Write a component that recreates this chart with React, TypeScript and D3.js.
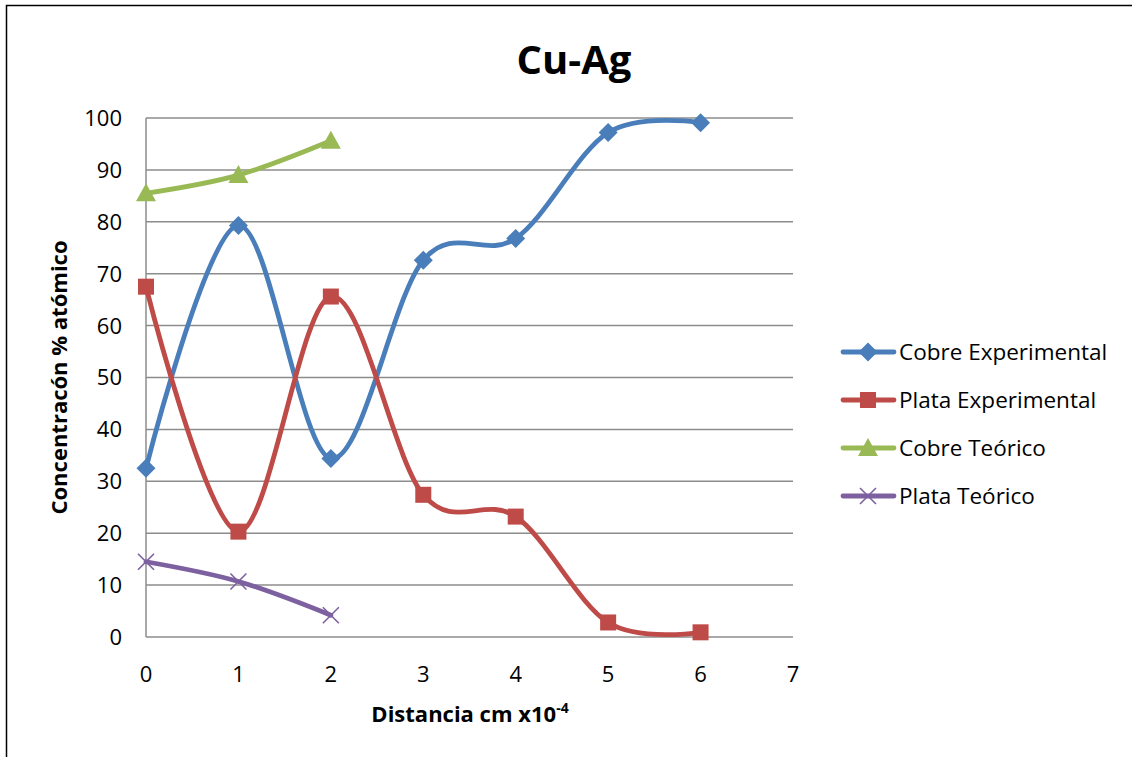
import * as d3 from "d3"

const X_VALUES = [0, 1, 2, 3, 4, 5, 6]
const COBRE_EXP = [32.5, 79.3, 34.4, 72.6, 76.8, 97.2, 99.1]
const PLATA_EXP = [67.5, 20.3, 65.6, 27.4, 23.2, 2.8, 0.9]
const COBRE_TEO = [85.5, 89.0, 95.6]
const PLATA_TEO = [14.5, 10.7, 4.2]

const X_TICKS = [0, 1, 2, 3, 4, 5, 6, 7]
const Y_TICKS = [0, 10, 20, 30, 40, 50, 60, 70, 80, 90, 100]

type Marker = "diamond" | "square" | "triangle" | "x"

interface Series {
  name: string
  values: number[]
  color: string
  marker: Marker
}

const SERIES: Series[] = [
  { name: "Cobre Experimental", values: COBRE_EXP, color: "#4a7ebb", marker: "diamond" },
  { name: "Plata Experimental", values: PLATA_EXP, color: "#be4b48", marker: "square" },
  { name: "Cobre Teórico",      values: COBRE_TEO, color: "#98b954", marker: "triangle" },
  { name: "Plata Teórico",      values: PLATA_TEO, color: "#7d60a0", marker: "x" },
]

const W = 1132
const H = 757
const PLOT_L = 146
const PLOT_R = 793
const PLOT_T = 118
const PLOT_B = 637
const FONT = "Open Sans, Noto Sans, sans-serif"

function MarkerShape({ m, x, y, color }: { m: Marker; x: number; y: number; color: string }) {
  if (m === "diamond") {
    const s = 9.5
    return <path d={`M${x},${y - s}L${x + s},${y}L${x},${y + s}L${x - s},${y}Z`} fill={color} />
  }
  if (m === "square") {
    const s = 8
    return <rect x={x - s} y={y - s} width={s * 2} height={s * 2} fill={color} />
  }
  if (m === "triangle") {
    const s = 9
    return <path d={`M${x},${y - s - 1}L${x + s + 1},${y + s - 1}L${x - s - 1},${y + s - 1}Z`} fill={color} />
  }
  const s = 8
  return (
    <path
      d={`M${x - s},${y - s}L${x + s},${y + s}M${x - s},${y + s}L${x + s},${y - s}`}
      stroke={color}
      strokeWidth={1.6}
      fill="none"
    />
  )
}

export default function App() {
  const x = d3.scaleLinear().domain([0, 7]).range([PLOT_L, PLOT_R])
  const y = d3.scaleLinear().domain([0, 100]).range([PLOT_B, PLOT_T])

  const line = d3
    .line<number>()
    .x((_, i) => x(X_VALUES[i]))
    .y((d) => y(d))
    .curve(d3.curveCardinal.tension(0))

  const legendY = [352, 400, 448, 496]

  return (
    <svg
      width={W}
      height={H}
      style={{ position: "absolute", left: 0, top: 0, background: "#fff" }}
      fontFamily={FONT}
    >
      <rect x={6.5} y={5.5} width={W + 20} height={H + 20} fill="#fff" stroke="#000" strokeWidth={1.5} />

      {/* gridlines */}
      {Y_TICKS.map((t) => (
        <line key={t} x1={PLOT_L} x2={PLOT_R} y1={y(t)} y2={y(t)} stroke="#8c8c8c" strokeWidth={1.5} />
      ))}
      <line x1={PLOT_L} x2={PLOT_L} y1={PLOT_T} y2={PLOT_B} stroke="#8c8c8c" strokeWidth={1.5} />

      {/* y tick labels */}
      {Y_TICKS.map((t) => (
        <text key={t} x={122} y={y(t)} dy="0.36em" textAnchor="end" fontSize={22} fill="#000">
          {t}
        </text>
      ))}
      {/* x tick labels */}
      {X_TICKS.map((t) => (
        <text key={t} x={x(t)} y={682} textAnchor="middle" fontSize={22} fill="#000">
          {t}
        </text>
      ))}

      {/* series */}
      {SERIES.map((s) => (
        <g key={s.name}>
          <path d={line(s.values) ?? ""} fill="none" stroke={s.color} strokeWidth={4.8} strokeLinecap="round" />
          {s.values.map((v, i) => (
            <MarkerShape key={i} m={s.marker} x={x(X_VALUES[i])} y={y(v)} color={s.color} />
          ))}
        </g>
      ))}

      {/* title */}
      <text x={574} y={74} textAnchor="middle" fontSize={40} fontWeight="bold" fill="#000">
        Cu-Ag
      </text>

      {/* axis titles */}
      <text
        transform={`translate(67,${(PLOT_T + PLOT_B) / 2}) rotate(-90)`}
        textAnchor="middle"
        fontSize={22}
        fontWeight="bold"
        fill="#000"
      >
        Concentracón % atómico
      </text>
      <text x={470} y={722} textAnchor="middle" fontSize={22} fontWeight="bold" fill="#000">
        Distancia cm x10
        <tspan fontSize={14} dy={-9}>-4</tspan>
      </text>

      {/* legend */}
      {SERIES.map((s, i) => (
        <g key={s.name}>
          <line x1={843} x2={894} y1={legendY[i]} y2={legendY[i]} stroke={s.color} strokeWidth={4.8} strokeLinecap="round" />
          <MarkerShape m={s.marker} x={868} y={legendY[i]} color={s.color} />
          <text x={899} y={legendY[i]} dy="0.36em" fontSize={22.5} fill="#000">
            {s.name}
          </text>
        </g>
      ))}
    </svg>
  )
}
